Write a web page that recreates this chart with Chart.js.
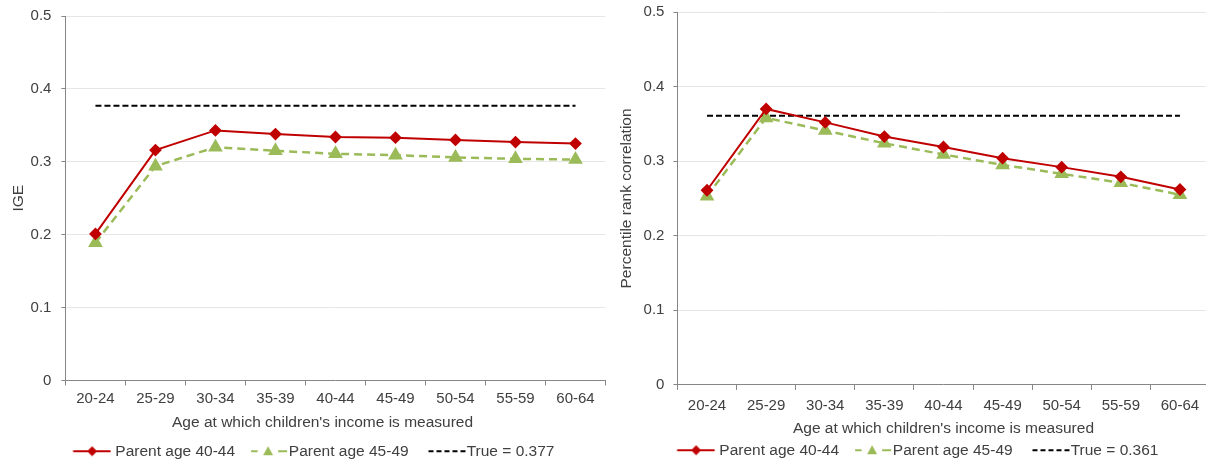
<!DOCTYPE html>
<html>
<head>
<meta charset="utf-8">
<script src="https://cdn.jsdelivr.net/npm/chart.js@4.4.0/dist/chart.umd.min.js"></script>
<style>
  html, body { margin: 0; padding: 0; background: #fff; overflow: hidden; }
  .wrap { position: relative; width: 1206px; height: 463px; overflow: hidden; }
  .box { position: absolute; }
  #leftBox { left: 0; top: -3px; width: 614px; height: 472px; }
  #rightBox { left: 606px; top: -6px; width: 612px; height: 474px; }
</style>
</head>
<body>
<div class="wrap">
  <div class="box" id="leftBox"><canvas id="igeChart"></canvas></div>
  <div class="box" id="rightBox"><canvas id="rankChart"></canvas></div>
</div>
<script>
const ageGroups = ['20-24', '25-29', '30-34', '35-39', '40-44', '45-49', '50-54', '55-59', '60-64'];
const yTicks = [0, 0.1, 0.2, 0.3, 0.4, 0.5];

// left panel: IGE
const igeParent4044 = [0.201, 0.316, 0.343, 0.338, 0.334, 0.333, 0.330, 0.327, 0.325];
const igeParent4549 = [0.189, 0.294, 0.320, 0.315, 0.311, 0.309, 0.306, 0.304, 0.303];
const igeTrue = [0.377, 0.377, 0.377, 0.377, 0.377, 0.377, 0.377, 0.377, 0.377];

// right panel: percentile rank correlation
const rankParent4044 = [0.261, 0.370, 0.352, 0.333, 0.319, 0.304, 0.292, 0.279, 0.262];
const rankParent4549 = [0.253, 0.358, 0.341, 0.324, 0.309, 0.295, 0.283, 0.271, 0.255];
const rankTrue = [0.361, 0.361, 0.361, 0.361, 0.361, 0.361, 0.361, 0.361, 0.361];

const RED = '#c00000';
const GREEN = '#9bbb59';
const TEXT = '#404040';
const AXIS = '#868686';
const FONT = 'Liberation Sans, Arial, sans-serif';

// legend swatches (line with the marker in the middle); the canvas is wider
// than the legend box so the line can sit right up against its text
function swatch(kind) {
    const c = document.createElement('canvas');
    c.width = 60; c.height = 14;
    const g = c.getContext('2d');
    g.lineWidth = 2;
    if (kind === 'red') {
        g.strokeStyle = RED;
        g.beginPath(); g.moveTo(15.5, 7); g.lineTo(53, 7); g.stroke();
        g.fillStyle = RED;
        g.beginPath(); g.moveTo(34.5, 2); g.lineTo(39.5, 7); g.lineTo(34.5, 12); g.lineTo(29.5, 7); g.closePath(); g.fill();
    } else if (kind === 'green') {
        g.strokeStyle = GREEN;
        g.beginPath(); g.moveTo(20, 7); g.lineTo(26.5, 7); g.moveTo(47, 7); g.lineTo(56, 7); g.stroke();
        g.fillStyle = GREEN;
        g.beginPath(); g.moveTo(37, 2); g.lineTo(42, 11); g.lineTo(32, 11); g.closePath(); g.fill();
    } else {
        g.strokeStyle = '#000';
        g.setLineDash([5, 3]);
        g.beginPath(); g.moveTo(19.5, 7); g.lineTo(56.5, 7); g.stroke();
    }
    return c;
}
const swatches = [swatch('red'), swatch('green'), swatch('black')];
const legendGap = ['', ' ', ''];

function makeChart(id, yTitle, xTitle, red, green, truth, trueLabel, lay) {
    new Chart(document.getElementById(id), {
        type: 'line',
        data: {
            labels: ageGroups,
            datasets: [{
                label: 'Parent age 40-44',
                data: red,
                borderColor: RED,
                backgroundColor: RED,
                borderWidth: 2,
                pointStyle: 'rectRot',
                pointRadius: 5,
                pointHoverRadius: 5,
                tension: 0,
            }, {
                label: 'Parent age 45-49',
                data: green,
                borderColor: GREEN,
                backgroundColor: GREEN,
                borderWidth: 2.5,
                borderDash: [8, 5],
                pointStyle: 'triangle',
                pointRadius: 6,
                pointHoverRadius: 6,
                tension: 0,
            }, {
                label: trueLabel,
                data: truth,
                borderColor: '#000',
                borderWidth: 2,
                borderDash: [6, 3],
                pointRadius: 0,
                pointHoverRadius: 0,
            }]
        },
        options: {
            responsive: true,
            maintainAspectRatio: false,
            animation: false,
            layout: { padding: lay.padding },
            scales: {
                x: {
                    offset: true,
                    grid: {
                        offset: true,
                        drawOnChartArea: false,
                        drawTicks: true,
                        tickLength: 5,
                        color: AXIS,
                    },
                    border: { color: AXIS, width: 1 },
                    ticks: { color: TEXT, font: { family: FONT, size: 15 }, padding: lay.xTickPad, maxRotation: 0 },
                    title: {
                        display: true,
                        text: xTitle,
                        color: TEXT,
                        font: { family: FONT, size: 15.5 },
                        padding: lay.xTitlePad,
                    },
                },
                y: {
                    min: 0,
                    max: 0.5,
                    afterBuildTicks: axis => { axis.ticks = yTicks.map(v => ({ value: v })); },
                    grid: {
                        color: '#e6e6e6',
                        tickColor: AXIS,
                        tickLength: 4,
                        drawTicks: true,
                    },
                    border: { color: AXIS, width: 1 },
                    ticks: { color: TEXT, font: { family: FONT, size: 15 }, padding: lay.yTickPad },
                    title: {
                        display: true,
                        text: yTitle,
                        color: TEXT,
                        font: { family: FONT, size: 15.5 },
                        padding: lay.yTitlePad,
                    },
                },
            },
            plugins: {
                legend: {
                    position: 'bottom',
                    labels: {
                        usePointStyle: true,
                        pointStyleWidth: 40,
                        color: TEXT,
                        font: { family: FONT, size: 15.5 },
                        padding: 6,
                        generateLabels: chart => chart.data.datasets.map((ds, i) => ({
                            text: ds.label + legendGap[i],
                            pointStyle: swatches[i],
                            fontColor: TEXT,
                            lineWidth: 0,
                            datasetIndex: i,
                        })),
                    },
                },
                tooltip: { enabled: false },
            },
        },
    });
}

// trailing spaces nudge the left x title a little left of the plot centre, as in the original
makeChart('igeChart', 'IGE', "Age at which children's income is measured      ",
    igeParent4044, igeParent4549, igeTrue, 'True = 0.377', {
    padding: { left: 15, right: 7, top: 16, bottom: 0 },
    xTickPad: 4,
    xTitlePad: { top: 2, bottom: 5.5 },
    yTickPad: 10,
    yTitlePad: { top: -6, bottom: -7 },
});
makeChart('rankChart', 'Percentile rank correlation', "Age at which children's income is measured",
    rankParent4044, rankParent4549, rankTrue, 'True = 0.361', {
    padding: { left: 9, right: 3, top: 12, bottom: 0 },
    xTickPad: 7,
    xTitlePad: { top: -2, bottom: -2 },
    yTickPad: 9,
    yTitlePad: { top: 2, bottom: -1 },
});
</script>
</body>
</html>
